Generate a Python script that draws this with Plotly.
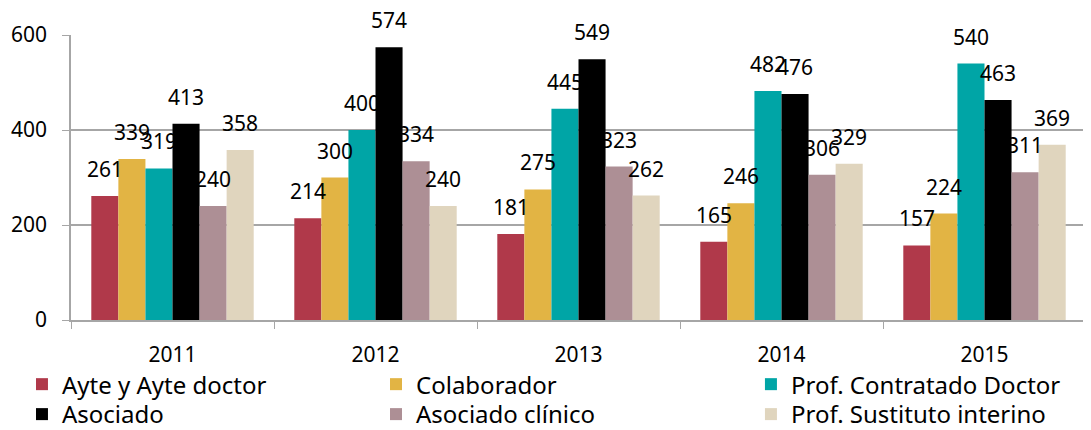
import plotly.graph_objects as go

years = ['2011', '2012', '2013', '2014', '2015']
series_names = ['Ayte y Ayte doctor', 'Colaborador', 'Prof. Contratado Doctor',
                'Asociado', 'Asociado clínico', 'Prof. Sustituto interino']
ayte = [261, 214, 181, 165, 157]
colaborador = [339, 300, 275, 246, 224]
contratado = [319, 400, 445, 482, 540]
asociado = [413, 574, 549, 476, 463]
clinico = [240, 334, 323, 306, 311]
sustituto = [358, 240, 262, 329, 369]
colors = ['#B0394A', '#E2B444', '#00A5A6', '#000000', '#AD8F95', '#E0D5BE']

values = [ayte, colaborador, contratado, asociado, clinico, sustituto]
FONT = 'Noto Sans'

# legend is a 3 x 2 grid; one small plotly legend per entry so rows sit tight
legend_ids = ['legend', 'legend2', 'legend3', 'legend4', 'legend5', 'legend6']
col_x = [0.0129, 0.3398, 0.686]
row_y = [0.161, 0.090]

# page body has an 8px margin, so the figure is a bit smaller than the window
W, H = 1083, 422
ML, MR, MT, MB = 63, 5, 27, 110

fig = go.Figure()
for name, vals, col, lg in zip(series_names, values, colors, legend_ids):
    fig.add_trace(go.Bar(name=name, x=years, y=vals, marker_color=col,
                         marker_line_width=0, legend=lg))

# value labels, sitting a bit above each bar like the original
# (x given as category index, numeric-looking year strings confuse the axis)
plot_w = W - ML - MR
cat_w = plot_w / len(years)
bar_w = cat_w * 0.8 / len(values)
for i, vals in enumerate(values):
    for j, v in enumerate(vals):
        fig.add_annotation(x=j, y=v, xref='x', yref='y', text=str(v),
                           showarrow=False, yanchor='bottom',
                           xshift=(i - 2.5) * bar_w, yshift=11,
                           font=dict(family=FONT, size=21, color='#000'))

legend_style = dict(orientation='v', xref='container', yref='container',
                    xanchor='left', yanchor='top',
                    font=dict(size=24), itemwidth=30, tracegroupgap=0,
                    bgcolor='rgba(0,0,0,0)')
legends = {}
for k, lg in enumerate(legend_ids):
    legends[lg] = dict(x=col_x[k % 3], y=row_y[k // 3], **legend_style)

fig.update_layout(
    barmode='group', bargap=0.2, bargroupgap=0,
    width=W, height=H,
    margin=dict(l=ML, r=MR, t=MT, b=MB, autoexpand=False),
    plot_bgcolor='white', paper_bgcolor='white',
    font=dict(family=FONT, size=20, color='#000'),
    showlegend=True,
    **legends,
)
fig.update_yaxes(range=[0, 600], tickvals=[0, 200, 400, 600],
                 showgrid=True, gridcolor='#A6A6A6', gridwidth=1.5,
                 showline=True, linecolor='#A6A6A6', linewidth=1.5,
                 ticks='outside', ticklen=7, tickcolor='#A6A6A6',
                 ticklabelstandoff=11,
                 zeroline=False, tickfont=dict(size=21))
fig.update_xaxes(type='category', range=[-0.5, len(years) - 0.5],
                 showline=True, linecolor='#A6A6A6',
                 linewidth=1.5, ticks='outside', tickson='boundaries',
                 ticklen=7, tickcolor='#A6A6A6', showgrid=False,
                 ticklabelstandoff=15, tickfont=dict(size=21))

fig.write_html('out.html')
